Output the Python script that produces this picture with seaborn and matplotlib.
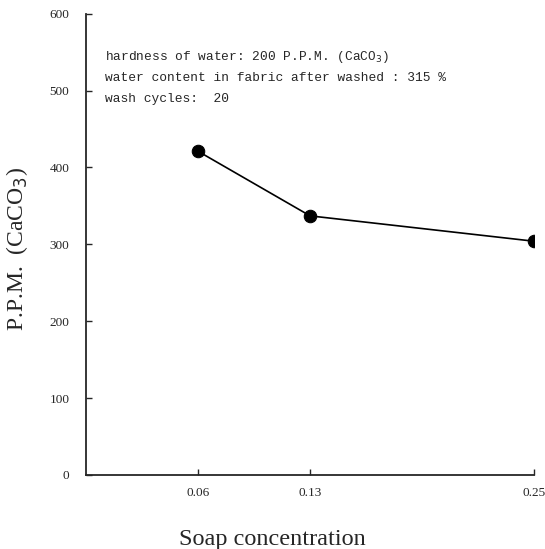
import pandas as pd
import matplotlib
matplotlib.use('Agg')
import matplotlib.pyplot as plt
import seaborn as sns

# soap concentration (plotted on a linear axis; labels rounded as printed)
soap_conc = [0.0625, 0.125, 0.25]
conc_labels = ['0.06', '0.13', '0.25']
ppm = [421, 337, 304]
y_ticks = [0, 100, 200, 300, 400, 500, 600]

notes = [
    'hardness of water: 200 P.P.M. (CaCO$_3$)',
    'water content in fabric after washed : 315 %',
    'wash cycles:  20',
]

data = pd.DataFrame({'conc': soap_conc, 'ppm': ppm})

sns.set_style('ticks')
plt.rcParams['font.family'] = ['Liberation Serif', 'DejaVu Serif']

fig = plt.figure(figsize=(5.45, 5.49), dpi=100)
ax = fig.add_axes([0.158, 0.135, 0.822, 0.84])

sns.lineplot(data=data, x='conc', y='ppm', ax=ax, color='black', linewidth=1.2,
             marker='o', markersize=9, markeredgecolor='black', markerfacecolor='black')

ax.set_xlim(0, 0.25)
ax.set_ylim(0, 600)
ax.set_xticks(soap_conc)
ax.set_xticklabels(conc_labels)
ax.set_yticks(y_ticks)
ax.tick_params(direction='in', length=4, width=1, labelsize=9.5)
ax.tick_params(axis='y', pad=12)
ax.tick_params(axis='x', pad=9)
for s in ['left', 'bottom']:
    ax.spines[s].set_linewidth(1.3)
sns.despine(ax=ax)

ax.set_xlabel('Soap concentration', fontsize=17.5, labelpad=16)
ax.xaxis.set_label_coords(0.415, -0.117)
ax.set_ylabel('P.P.M.  (CaCO$_3$)', fontsize=17)
ax.yaxis.set_label_coords(-0.126, 0.49)

for i, line in enumerate(notes):
    ax.text(0.042, 0.907 - i * 0.0455, line, transform=ax.transAxes,
            family=['Liberation Mono', 'DejaVu Sans Mono'], fontsize=9.3,
            va='center', ha='left')

fig.savefig('out.png', dpi=100)
